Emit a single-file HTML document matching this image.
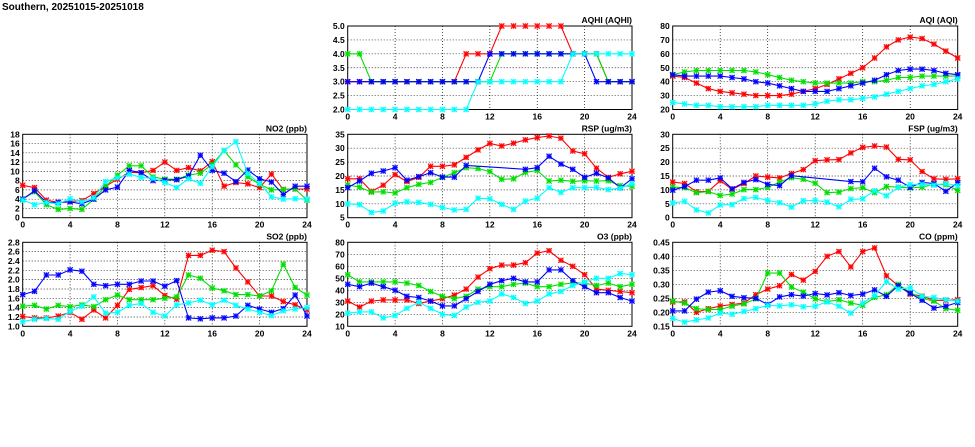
<!DOCTYPE html>
<html><head><meta charset="utf-8"><style>
html,body{margin:0;padding:0;background:#fff;}
svg{display:block;font-family:"Liberation Sans",sans-serif;font-weight:bold;}
</style></head><body>
<svg id="chart" width="975" height="447" viewBox="0 0 975 447">
<text x="2" y="10" font-size="10">Southern, 20251015-20251018</text>
</svg>
<script>
const hours = [0,1,2,3,4,5,6,7,8,9,10,11,12,13,14,15,16,17,18,19,20,21,22,23,24];
const xTicks = [0,4,8,12,16,20,24];
const seriesColors = ["#ff0000","#00e000","#0000ff","#00ffff"];

const aqhiTicks = ["2.0","2.5","3.0","3.5","4.0","4.5","5.0"];
const aqhiRed = [3,3,3,3,3,3,3,3,3,3,4,4,4,5,5,5,5,5,5,4,4,4,3,3,3];
const aqhiGreen = [4,4,3,3,3,3,3,3,3,3,3,3,3,4,4,4,4,4,4,4,4,4,3,3,3];
const aqhiBlue = [3,3,3,3,3,3,3,3,3,3,3,3,4,4,4,4,4,4,4,4,4,3,3,3,3];
const aqhiCyan = [2,2,2,2,2,2,2,2,2,2,2,3,3,3,3,3,3,3,3,4,4,4,4,4,4];

const aqiTicks = ["20","30","40","50","60","70","80"];
const aqiRed = [44,43,39,35,33,32,31,30,30,30,31,33,35,38,42,46,50,57,65,70,72,71,67,62,57];
const aqiGreen = [45,47,48,48,48,48,48,47,45,43,41,40,39,39,39,39,40,40,41,43,43,44,44,44,44];
const aqiBlue = [45,44,44,44,44,43,42,40,39,37,35,33,33,33,35,37,39,41,45,48,49,49,48,46,45];
const aqiCyan = [25,24,23,23,22,22,22,22,23,23,23,23,24,26,27,27,28,29,31,33,35,37,38,40,42];

const no2Ticks = ["0","2","4","6","8","10","12","14","16","18"];
const no2Red = [7,6.5,3.8,3.3,3.5,3.7,5.2,6.8,8.3,9.8,9.7,10.2,12,10.2,10.8,10.1,12.1,6.8,7.6,7.3,6.5,9.4,6.1,6.2,6.2];
const no2Green = [4,5.6,2.8,1.8,2,1.8,4,6.8,9.2,11.2,11.2,8.8,8.3,8.3,9.2,9.6,11.5,14.5,11.4,8.8,7.2,6,6.1,6.2,3.8];
const no2Blue = [4,5.8,3.3,3.3,3.4,3,4,6,6.6,10.2,9.7,8,8.1,8.2,9,13.5,10.2,9.6,7.8,10.3,8.4,7.7,5,6.8,6.8];
const no2Cyan = [3.8,2.8,3.3,3,4.1,3.4,4.3,7.8,8.6,9.4,8.7,8.5,7.6,6.5,8.4,7.4,11,14.5,16.4,9.5,7.4,4.5,4,4.1,4];

const rspTicks = ["5","10","15","20","25","30","35"];
const rspRed = [19,19,14.5,16.7,20.5,18,19.5,23.5,23.5,24,26.7,29.4,31.7,30.8,31.8,33,33.8,34.4,33.6,29,28,22.8,19.5,20.8,21.7];
const rspGreen = [16.8,16,14.2,14.3,13.9,15.8,17,17.7,19.5,21.2,23,22.7,21.6,18.8,19,21.3,22,18.2,18.5,18.1,18.3,18.2,18.3,16.5,16.3];
const rspBlue = [15.8,18.2,21,21.8,23,18.5,19.8,21.2,19.6,19.6,23.8,null,null,null,null,22.4,23,27.1,24.3,22.4,19.5,21,19.3,15.8,19];
const rspCyan = [10,9.7,6.9,7.4,10.2,10.7,10.5,9.8,8.7,7.8,8,12,11.8,9.8,8,11,12,15.8,14.1,15.8,15.8,15.9,15.1,15.6,17.2];

const fspTicks = ["0","5","10","15","20","25","30"];
const fspRed = [12.8,12.3,9.3,9.5,13.3,10.2,12.3,15,14.6,14.3,15.9,17.3,20.5,20.8,20.9,23.3,25.3,25.8,25.4,21,20.8,16.6,14,13.8,14];
const fspGreen = [11,10.8,9,9.4,8,8.5,10.1,10.1,10.9,12.8,14.4,13.8,12.4,9,9.2,10.5,10.8,9,11.2,11,10.7,11,12,11.9,9.8];
const fspBlue = [9.9,11.2,13.5,13.5,14.3,10.4,12.7,13.7,12,11.5,15.1,null,null,null,null,13,12.9,17.8,14.7,13.5,10.9,12.7,12.3,9.5,12.6];
const fspCyan = [5.3,5.9,2.8,1.7,4.6,4.7,6.9,7.3,6.2,5.4,3.8,6.1,6.2,5.6,3.9,6.6,6.8,9.7,7.9,10.9,11.9,12,11.7,12.3,11.5];

const so2Ticks = ["1.0","1.2","1.4","1.6","1.8","2.0","2.2","2.4","2.6","2.8"];
const so2Red = [1.21,1.18,1.18,1.22,1.3,1.15,1.35,1.18,1.45,1.79,1.83,1.87,1.66,1.58,2.52,2.52,2.63,2.6,2.25,1.95,1.65,1.65,1.53,1.46,1.35];
const so2Green = [1.43,1.45,1.37,1.45,1.42,1.46,1.42,1.57,1.67,1.57,1.57,1.57,1.6,1.63,2.1,2.03,1.82,1.76,1.68,1.68,1.65,1.76,2.33,1.83,1.67];
const so2Blue = [1.68,1.75,2.1,2.1,2.21,2.18,1.9,1.87,1.9,1.9,1.97,1.97,1.86,1.98,1.18,1.16,1.18,1.18,1.22,1.45,1.37,1.3,1.38,1.67,1.22];
const so2Cyan = [1.1,1.15,1.17,1.15,1.32,1.43,1.63,1.28,1.3,1.45,1.49,1.3,1.22,1.46,1.5,1.56,1.46,1.56,1.45,1.37,1.3,1.23,1.33,1.37,1.4];

const o3Ticks = ["10","20","30","40","50","60","70","80"];
const o3Red = [31,26,31,32,32,32,29,31,33,36,41,51,58,61,61,63,71,73,65,60,53,41,40,39,38];
const o3Green = [53,47,47,47,47,46,44,39,35,33,35,41,43,43,45,46,43,43,45,46,46,44,46,43,45];
const o3Blue = [45,43,46,43,40,35,34,31,27,27,33,39,45,48,50,47,47,57,57,48,43,38,38,34,31];
const o3Cyan = [21,22,22,17,19,25,30,25,20,19,26,30,31,37,34,29,31,37,39,44,47,50,50,54,53];

const coTicks = ["0.15","0.20","0.25","0.30","0.35","0.40","0.45"];
const coRed = [.237,.237,.20,.213,.222,.228,.233,.263,.283,.295,.335,.315,.346,.40,.417,.362,.417,.43,.33,.295,.265,.258,.243,.243,.245];
const coGreen = [.24,.233,.213,.21,.21,.222,.23,.248,.34,.34,.29,.272,.248,.238,.245,.233,.225,.253,.263,.30,.27,.25,.24,.213,.207];
const coBlue = [.205,.205,.247,.272,.277,.257,.252,.25,.228,.255,.263,.258,.267,.262,.27,.26,.265,.28,.257,.295,.268,.243,.215,.222,.235];
const coCyan = [.178,.165,.173,.18,.197,.193,.203,.213,.225,.223,.227,.22,.222,.237,.222,.197,.233,.26,.31,.283,.288,.257,.253,.245,.24];

const NS = "http://www.w3.org/2000/svg";
const svg = document.getElementById("chart");
function mk(tag, attrs, parent){ const e=document.createElementNS(NS,tag); for(const k in attrs) e.setAttribute(k,attrs[k]); (parent||svg).appendChild(e); return e; }

const panels = [
 {name:"aqhi", title:"AQHI (AQHI)", x0:347.7, x1:632, y0:26, y1:109.5, ticks:aqhiTicks, series:[aqhiRed,aqhiGreen,aqhiBlue,aqhiCyan]},
 {name:"aqi", title:"AQI (AQI)", x0:672.7, x1:957.7, y0:26, y1:109.5, ticks:aqiTicks, series:[aqiRed,aqiGreen,aqiBlue,aqiCyan]},
 {name:"no2", title:"NO2 (ppb)", x0:22.7, x1:307, y0:134.3, y1:217.7, ticks:no2Ticks, series:[no2Red,no2Green,no2Blue,no2Cyan]},
 {name:"rsp", title:"RSP (ug/m3)", x0:347.7, x1:632, y0:134.3, y1:217.7, ticks:rspTicks, series:[rspRed,rspGreen,rspBlue,rspCyan]},
 {name:"fsp", title:"FSP (ug/m3)", x0:672.7, x1:957.7, y0:134.3, y1:217.7, ticks:fspTicks, series:[fspRed,fspGreen,fspBlue,fspCyan]},
 {name:"so2", title:"SO2 (ppb)", x0:22.7, x1:307, y0:242.3, y1:326.3, ticks:so2Ticks, series:[so2Red,so2Green,so2Blue,so2Cyan]},
 {name:"o3", title:"O3 (ppb)", x0:347.7, x1:632, y0:242.3, y1:326.3, ticks:o3Ticks, series:[o3Red,o3Green,o3Blue,o3Cyan]},
 {name:"co", title:"CO (ppm)", x0:672.7, x1:957.7, y0:242.3, y1:326.3, ticks:coTicks, series:[coRed,coGreen,coBlue,coCyan]}
];
const seriesNames = ["red","green","blue","cyan"];

panels.forEach(p=>{
  const g = mk("g",{});
  
  
  const tv = p.ticks.map(Number);
  const ymin = tv[0], ymax = tv[tv.length-1];
  const xs = h => p.x0 + (h-0)/(24-0)*(p.x1-p.x0);
  const ys = v => p.y1 - (v-ymin)/(ymax-ymin)*(p.y1-p.y0);
  // grid
  p.ticks.forEach((t,i)=>{
    const y = ys(tv[i]);
    if(i>0 && i<tv.length-1){
      const gl = mk("line",{x1:p.x0,x2:p.x1,y1:y,y2:y,stroke:"#000","stroke-width":0.7,"stroke-dasharray":"1,2"},g);
      
      
    }
    const tl = mk("text",{x:p.x0-3,y:y+3,"font-size":8.5,"text-anchor":"end"},g);
    tl.textContent = t;
    
    
  });
  xTicks.forEach(h=>{
    const x = xs(h);
    if(h>0 && h<24){
      const gl = mk("line",{x1:x,x2:x,y1:p.y0,y2:p.y1,stroke:"#000","stroke-width":0.7,"stroke-dasharray":"1,2"},g);
      
      
    }
    const tl = mk("text",{x:x,y:p.y1+10,"font-size":8.5,"text-anchor":"middle"},g);
    tl.textContent = h;
    
    
  });
  const box = mk("rect",{x:p.x0,y:p.y0,width:p.x1-p.x0,height:p.y1-p.y0,fill:"none",stroke:"#000","stroke-width":1},g);
  
  
  const tt = mk("text",{x:p.x1,y:p.y0-3,"font-size":8.5,"text-anchor":"end"},g);
  tt.textContent = p.title;
  
  
  p.series.forEach((arr,si)=>{
    const col = seriesColors[si];
    const pts = [];
    arr.forEach((v,i)=>{ if(v!==null && v!==undefined) pts.push([xs(hours[i]), ys(v)]); });
    const line = mk("polyline",{points:pts.map(q=>q[0].toFixed(1)+","+q[1].toFixed(1)).join(" "),fill:"none",stroke:col,"stroke-width":1.1},g);
    
    
    pts.forEach(q=>{
      const m = mk("g",{},g);
      
      
      const [x,y]=q, r=2.6;
      mk("rect",{x:x-r,y:y-r,width:2*r,height:2*r,fill:col,"fill-opacity":0.35,stroke:"none"},m);
      mk("path",{d:`M${x-r},${y-r}L${x+r},${y+r}M${x-r},${y+r}L${x+r},${y-r}M${x-r},${y}L${x+r},${y}M${x},${y-r}L${x},${y+r}`,stroke:col,"stroke-width":1},m);
    });
  });
});
</script>
</body></html>
